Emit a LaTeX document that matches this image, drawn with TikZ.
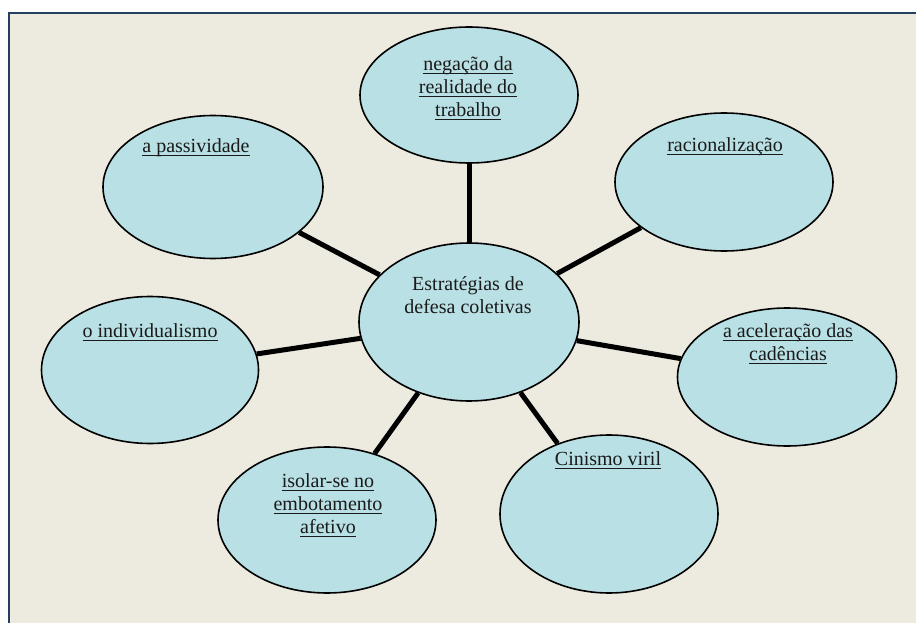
\documentclass[tikz,border=0pt]{standalone}
\usepackage{fontspec}
\setmainfont{Liberation Serif}
\usetikzlibrary{shapes.geometric}
\definecolor{bgpaper}{HTML}{EDEBE0}
\definecolor{bubblefill}{HTML}{B9E0E4}
\definecolor{framenavy}{HTML}{243F60}
\definecolor{inktext}{HTML}{1A1A1A}
\newcommand{\ulin}[1]{\setbox0\hbox{#1}\rlap{\rule[-3.2pt]{\wd0}{0.9pt}}\box0}
\tikzset{
  bubble/.style={ellipse, draw=black, line width=1.6pt, fill=bubblefill, inner sep=0pt},
  label/.style={align=center, inner sep=0pt, text=inktext, font=\fontsize{20}{23}\selectfont},
  spoke/.style={line width=5pt, black}
}
\begin{document}
\begin{tikzpicture}[x=1pt,y=-1pt]
\useasboundingbox (0,0) rectangle (916,623);
\fill[white] (0,0) rectangle (916,623);
\fill[bgpaper] (9,13) rectangle (916,623);
\draw[framenavy, line width=2.4pt] (9,623) -- (9,13) -- (916,13);

\node[bubble, minimum width=220pt, minimum height=158pt] (cen) at (469,322) {};
\node[bubble, minimum width=218pt, minimum height=136pt] (neg) at (469,95) {};
\node[bubble, minimum width=218pt, minimum height=138pt] (rac) at (724,182) {};
\node[bubble, minimum width=219pt, minimum height=138pt] (acel) at (787,377) {};
\node[bubble, minimum width=218pt, minimum height=158pt] (cin) at (609,514) {};
\node[bubble, minimum width=218pt, minimum height=146pt] (iso) at (327,520) {};
\node[bubble, minimum width=217pt, minimum height=147pt] (ind) at (150,370) {};
\node[bubble, minimum width=220pt, minimum height=143pt] (pas) at (213,187) {};

\draw[spoke] (cen) -- (neg);
\draw[spoke] (cen) -- (rac);
\draw[spoke] (cen) -- (acel);
\draw[spoke] (cen) -- (cin);
\draw[spoke] (cen) -- (iso);
\draw[spoke] (cen) -- (ind);
\draw[spoke] (cen) -- (pas);

\node[label] (cenT) at (468,295) {Estratégias de\\defesa coletivas};
\node[label] (negT) at (468,88) {\ulin{negação da}\\\ulin{realidade do}\\\ulin{trabalho}};
\node[label] (racT) at (725,147) {\ulin{racionalização}};
\node[label] (acelT) at (788,344) {\ulin{a aceleração das}\\\ulin{cadências}};
\node[label] (cinT) at (608,460) {\ulin{Cinismo viril}};
\node[label] (isoT) at (328,505) {\ulin{isolar-se no}\\\ulin{embotamento}\\\ulin{afetivo}};
\node[label] (indT) at (150,332) {\ulin{o individualismo}};
\node[label] (pasT) at (196,148) {\ulin{a passividade}};
\end{tikzpicture}
\end{document}
